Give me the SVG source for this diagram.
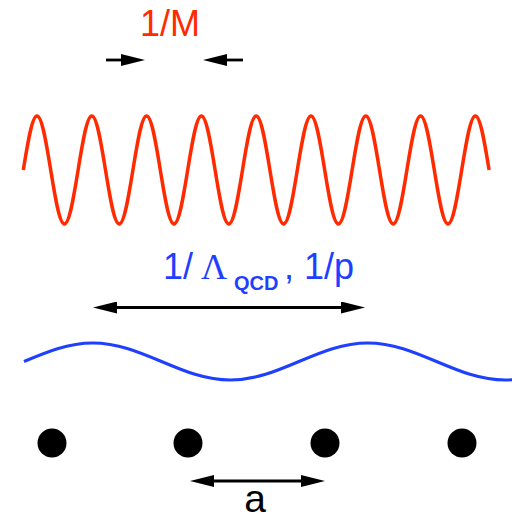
<svg xmlns="http://www.w3.org/2000/svg" width="512" height="526" viewBox="0 0 512 526">
<style>
.lbl{font-family:"Liberation Sans",Arial,sans-serif;font-size:36px}
.red{fill:#ff2a00}
.blue{fill:#1f3fff}
.arr{stroke:#000;stroke-width:2.8;fill:none;marker-end:url(#ah)}
.dbl{stroke:#000;stroke-width:2.8;fill:none;marker-start:url(#ah);marker-end:url(#ah)}
.dot{fill:#000}
</style>
<defs>
<marker id="ah" viewBox="0 0 24 12" refX="14" refY="6" markerWidth="24" markerHeight="12" markerUnits="userSpaceOnUse" orient="auto-start-reverse">
<path d="M0,0 L24,6 L0,12 Z" fill="#000"/>
</marker>
</defs>
<g id="red-wave">
<path fill="none" stroke="#ff2a00" stroke-width="3.5" d="M23.3,170 c4.47,-27.66 8.74,-54 13.7,-54 c4.96,0 9.23,26.34 13.7,54 c4.47,27.66 8.74,54 13.7,54 c4.96,0 9.23,-26.34 13.7,-54 c4.47,-27.66 8.74,-54 13.7,-54 c4.96,0 9.23,26.34 13.7,54 c4.47,27.66 8.74,54 13.7,54 c4.96,0 9.23,-26.34 13.7,-54 c4.47,-27.66 8.74,-54 13.7,-54 c4.96,0 9.23,26.34 13.7,54 c4.47,27.66 8.74,54 13.7,54 c4.96,0 9.23,-26.34 13.7,-54 c4.47,-27.66 8.74,-54 13.7,-54 c4.96,0 9.23,26.34 13.7,54 c4.47,27.66 8.74,54 13.7,54 c4.96,0 9.23,-26.34 13.7,-54 c4.47,-27.66 8.74,-54 13.7,-54 c4.96,0 9.23,26.34 13.7,54 c4.47,27.66 8.74,54 13.7,54 c4.96,0 9.23,-26.34 13.7,-54 c4.47,-27.66 8.74,-54 13.7,-54 c4.96,0 9.23,26.34 13.7,54 c4.47,27.66 8.74,54 13.7,54 c4.96,0 9.23,-26.34 13.7,-54 c4.47,-27.66 8.74,-54 13.7,-54 c4.96,0 9.23,26.34 13.7,54 c4.47,27.66 8.74,54 13.7,54 c4.96,0 9.23,-26.34 13.7,-54 c4.47,-27.66 8.74,-54 13.7,-54 c4.96,0 9.23,26.34 13.7,54 c4.47,27.66 8.74,54 13.7,54 c4.96,0 9.23,-26.34 13.7,-54 c4.47,-27.66 8.74,-54 13.7,-54 c4.96,0 9.23,26.34 13.7,54"/>
</g>
<g id="blue-wave">
<path fill="none" stroke="#1f3fff" stroke-width="3" d="M24,361.5 c22.42,-9.48 43.87,-18.5 68.75,-18.5 c24.88,0 46.33,9.02 68.75,18.5 c22.42,9.48 43.87,18.5 68.75,18.5 c24.88,0 46.33,-9.02 68.75,-18.5 c22.42,-9.48 43.87,-18.5 68.75,-18.5 c24.88,0 46.33,9.02 68.75,18.5 c22.42,9.48 43.87,18.5 68.75,18.5 l8,-0.2"/>
</g>
<g id="label-M">
<text class="lbl red" x="140" y="36">1/M</text>
</g>
<g id="label-QCD">
<text class="lbl blue" x="163" y="279">1/</text>
<text class="blue" x="201" y="279" font-family="'Liberation Serif','Times New Roman',serif" font-size="36">Λ</text>
<text class="blue" x="234" y="290" font-family="'Liberation Sans',Arial,sans-serif" font-size="20" font-weight="bold">QCD</text>
<text class="lbl blue" x="284" y="279">, 1/p</text>
</g>
<g id="lattice">
<circle class="dot" cx="52" cy="443" r="14.5"/>
<circle class="dot" cx="188" cy="443" r="14.5"/>
<circle class="dot" cx="325" cy="443" r="14.5"/>
<circle class="dot" cx="462" cy="443" r="14.5"/>
</g>
<g id="label-a">
<text class="lbl" x="255" y="512" font-size="39" text-anchor="middle" style="font-size:39px">a</text>
</g>
<g id="connectors">
<line class="arr" x1="106" y1="60" x2="135" y2="60"/>
<line class="arr" x1="243" y1="60" x2="213" y2="60"/>
<line class="dbl" x1="103" y1="307.5" x2="355" y2="307.5"/>
<line class="dbl" x1="200" y1="481" x2="315" y2="481"/>
</g>
</svg>
